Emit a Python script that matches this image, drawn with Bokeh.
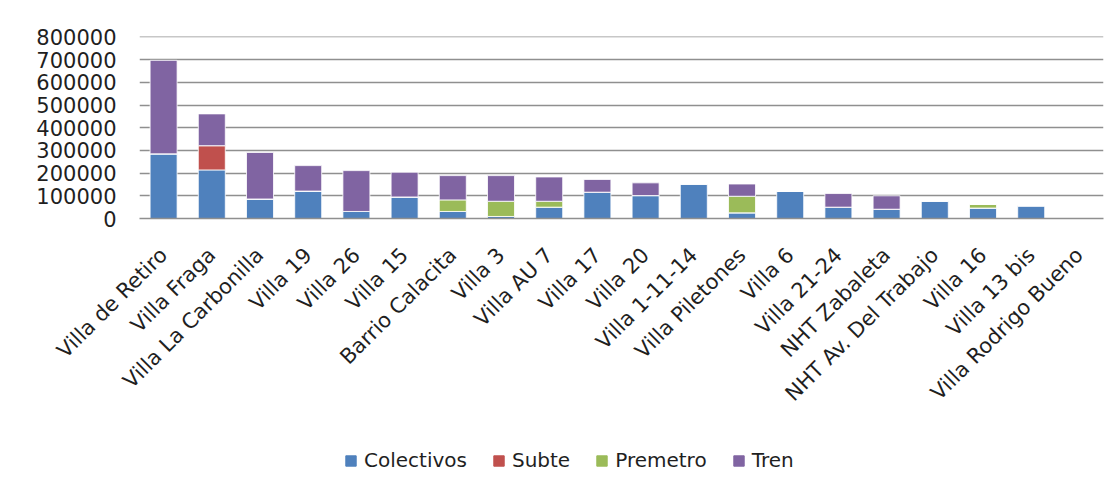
from bokeh.plotting import figure
from bokeh.layouts import column
from bokeh.models import (ColumnDataSource, FixedTicker, Range1d, FactorRange,
                          Legend, LegendItem, NumeralTickFormatter)
from bokeh.embed import file_html
from bokeh.resources import INLINE
import math

categories = ["Villa de Retiro", "Villa Fraga", "Villa La Carbonilla", "Villa 19",
              "Villa 26", "Villa 15", "Barrio Calacita", "Villa 3", "Villa AU 7",
              "Villa 17", "Villa 20", "Villa 1-11-14", "Villa Piletones", "Villa 6",
              "Villa 21-24", "NHT Zabaleta", "NHT Av. Del Trabajo", "Villa 16",
              "Villa 13 bis", "Villa Rodrigo Bueno"]
colectivos = [285000, 214000, 86000, 121000, 31000, 95000, 31000, 9000, 50000, 116000,
              101000, 152000, 25000, 119000, 50000, 41000, 77000, 46000, 56000, 0]
subte = [0, 107000, 0, 0, 0, 0, 0, 0, 0, 0,
         0, 0, 0, 0, 0, 0, 0, 0, 0, 0]
premetro = [0, 0, 0, 0, 0, 0, 51000, 67000, 26000, 0,
            0, 0, 73000, 0, 0, 0, 0, 16000, 0, 0]
tren = [412000, 140000, 205000, 112000, 180000, 109000, 107000, 113000, 107000, 56000,
        56000, 0, 54000, 0, 60000, 59000, 0, 0, 0, 0]
series = ["Colectivos", "Subte", "Premetro", "Tren"]
colors = ["#4F81BD", "#C0504D", "#9BBB59", "#8064A2"]
y_ticks = [0, 100000, 200000, 300000, 400000, 500000, 600000, 700000, 800000]

source = ColumnDataSource(dict(cat=categories, Colectivos=colectivos, Subte=subte,
                               Premetro=premetro, Tren=tren))

FONT = "DejaVu Sans"
TXT = "#1f1f1f"
GRID = "#8f8f8f"

p = figure(x_range=FactorRange(*categories), y_range=Range1d(0, 802000),
           width=1105, height=445, output_backend="svg", toolbar_location=None,
           min_border_left=139, min_border_right=2, min_border_top=36,
           min_border_bottom=227)

rs = p.vbar_stack(series, x="cat", width=0.56, color=colors, source=source,
                  line_color="white", line_width=1, line_alpha=0.8)

p.x_range.range_padding = 0
p.outline_line_color = None
p.background_fill_color = "white"
p.border_fill_color = "white"

p.xgrid.grid_line_color = None
p.ygrid.grid_line_color = GRID
p.ygrid.grid_line_width = 1.5

p.yaxis.ticker = FixedTicker(ticks=y_ticks)
p.yaxis.formatter = NumeralTickFormatter(format="0")
p.yaxis.axis_line_color = None
p.yaxis.major_tick_line_color = None
p.yaxis.minor_tick_line_color = None
p.yaxis.major_tick_out = 0
p.yaxis.minor_tick_out = 0
p.yaxis.major_label_standoff = 23
p.yaxis.major_label_text_font = FONT
p.yaxis.major_label_text_font_size = "21px"
p.yaxis.major_label_text_color = TXT

p.xaxis.axis_line_color = GRID
p.xaxis.axis_line_width = 1.5
p.xaxis.major_tick_line_color = None
p.xaxis.minor_tick_line_color = None
p.xaxis.major_tick_out = 0
p.xaxis.minor_tick_out = 0
p.xaxis.major_label_orientation = math.pi / 4
p.xaxis.major_label_standoff = 33
p.xaxis.major_label_text_font = FONT
p.xaxis.major_label_text_font_size = "21px"
p.xaxis.major_label_text_color = TXT

# legend in a separate strip below the chart
lf = figure(width=1105, height=44, output_backend="svg", toolbar_location=None,
            x_range=Range1d(0, 1), y_range=Range1d(0, 1),
            x_axis_location=None, y_axis_location=None,
            min_border_left=0, min_border_right=0, min_border_top=0,
            min_border_bottom=0)
lf.outline_line_color = None
lf.xgrid.grid_line_color = None
lf.ygrid.grid_line_color = None
lf.border_fill_color = "white"

items = []
for s, c in zip(series, colors):
    # placeholder glyph below the visible range, used only for the legend swatch
    r = lf.vbar(x=[0.5], top=[-20], bottom=[-30], width=0.1, color=c)
    items.append(LegendItem(label=s, renderers=[r]))
legend = Legend(items=items, orientation="horizontal", location=(205, 17),
                label_text_font=FONT, label_text_font_size="20px",
                label_text_color=TXT, glyph_width=13, glyph_height=13,
                label_standoff=7, spacing=25, padding=0, margin=0,
                border_line_color=None, background_fill_alpha=0)
lf.add_layout(legend, "center")

layout = column(p, lf, spacing=0)
open("out.html", "w").write(file_html(layout, INLINE))
